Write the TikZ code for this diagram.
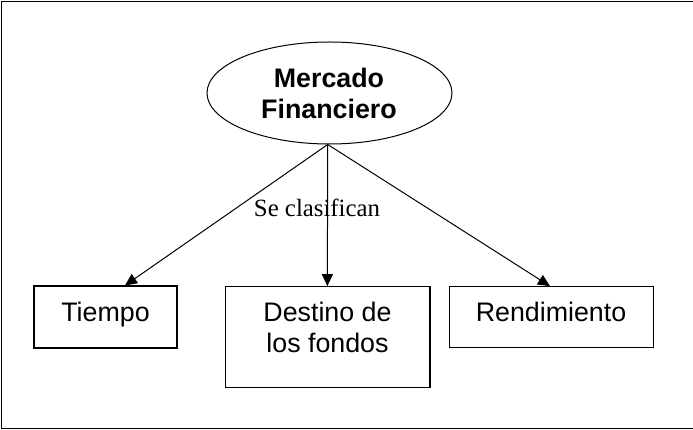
\documentclass[tikz,border=0pt]{standalone}
\usepackage{fontspec}
\setmainfont{Liberation Sans}
\newfontfamily\timesfont{Liberation Serif}
\usetikzlibrary{arrows.meta,shapes.geometric}
\begin{document}
\begin{tikzpicture}[x=1pt,y=-1pt,
  frameline/.style={line width=1.5pt},
  boxst/.style={draw,line width=1.1pt,inner sep=0pt},
  lbl/.style={anchor=base,inner sep=0pt,font=\fontsize{26.8}{31}\selectfont},
  conn/.style={line width=1pt,-{Triangle[length=12pt,width=11pt]}}]
\useasboundingbox (0,0) rectangle (693,430);
\draw[frameline] (693,1.5) -- (1.5,1.5) -- (1.5,428.5) -- (693,428.5);
% ellipse
\node[ellipse,draw,line width=1pt,minimum width=245pt,minimum height=102pt,inner sep=0pt] (merc) at (329.5,93) {};
\node[lbl,font=\bfseries\fontsize{26.8}{31}\selectfont] (m1) at (329,88) {Mercado};
\node[lbl,font=\bfseries\fontsize{26.8}{31}\selectfont] (m2) at (329,119) {Financiero};
\coordinate (o) at (327.7,144.5);
% boxes
\node[boxst,minimum width=143pt,minimum height=62pt] (t) at (105.5,317) {};
\node[lbl] (tl) at (105.5,321) {Tiempo};
\node[boxst,minimum width=204.3pt,minimum height=101pt] (d) at (327.85,337.2) {};
\node[lbl] (dl1) at (327.5,321) {Destino de};
\node[lbl] (dl2) at (327.5,352.7) {los fondos};
\node[boxst,minimum width=204.4pt,minimum height=61pt] (r) at (551.5,317.2) {};
\node[lbl] (rl) at (551,321) {Rendimiento};
% connectors
\draw[conn] (o) -- ([xshift=19.5pt]t.north);
\draw[conn] (o) -- ([xshift=-0.5pt]d.north);
\draw[conn] (o) -- ([xshift=-1.5pt]r.north);
\node[anchor=base,inner sep=0pt,font=\timesfont\fontsize{24.8}{28}\selectfont] (sc) at (317,216.7) {Se clasifican};
\end{tikzpicture}
\end{document}
